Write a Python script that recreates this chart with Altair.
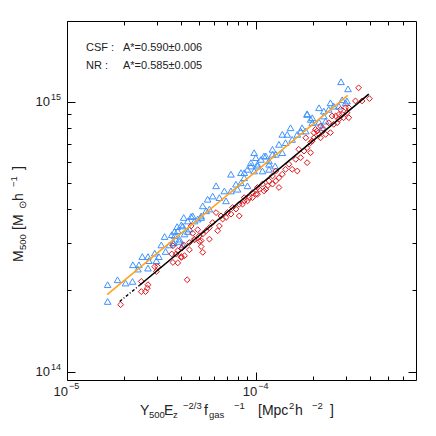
import altair as alt
import pandas as pd

# ---------------- data ----------------
csf_x = [1.64e-5, 1.64e-5, 1.85e-5, 2.04e-5, 2.22e-5, 2.23e-5, 2.40e-5, 2.37e-5, 2.68e-5, 2.68e-5,
         2.50e-5, 2.71e-5, 2.91e-5, 2.97e-5, 3.06e-5, 3.15e-5, 3.28e-5, 3.32e-5, 3.48e-5, 3.58e-5,
         3.70e-5, 3.82e-5, 4.02e-5, 4.14e-5, 4.53e-5, 4.72e-5, 3.93e-5, 4.09e-5, 4.35e-5, 3.67e-5,
         5.12e-5,
         7.36e-5, 8.31e-5, 8.65e-5, 9.38e-5, 9.96e-5, 1.016e-4, 1.10e-4, 1.17e-4, 1.22e-4, 1.26e-4,
         6.14e-5, 6.39e-5, 6.79e-5, 5.89e-5, 5.54e-5, 5.22e-5, 5.44e-5, 4.62e-5, 4.91e-5, 4.35e-5,
         4.09e-5, 3.85e-5, 3.70e-5, 3.93e-5, 3.63e-5, 4.44e-5, 4.18e-5, 7.82e-5, 9.00e-5, 7.36e-5,
         6.93e-5, 7.97e-5, 5.66e-5, 5.12e-5, 9.76e-5, 1.08e-4, 1.17e-4,
         1.86e-4, 1.98e-4, 1.52e-4, 1.75e-4, 1.375e-4, 1.46e-4, 1.65e-4,
         9.76e-5, 1.22e-4, 1.32e-4, 1.43e-4, 1.06e-4, 1.125e-4, 1.27e-4, 1.375e-4,
         9.38e-5, 8.65e-5, 8.31e-5, 9.00e-5, 1.016e-4,
         2.15e-4, 2.47e-4, 2.74e-4, 2.97e-4, 2.28e-4, 1.17e-4, 1.55e-4,
         2.81e-4, 3.06e-4, 2.85e-4, 3.02e-4, 2.57e-4, 2.42e-4, 1.86e-4, 1.94e-4, 1.98e-4, 2.15e-4,
         2.28e-4, 2.33e-4, 2.23e-4, 1.72e-4, 1.83e-4]
csf_y = [1.82e14, 2.10e14, 2.19e14, 2.13e14, 2.16e14, 2.49e14, 2.49e14, 2.40e14, 2.42e14, 2.67e14,
         2.67e14, 2.58e14, 2.75e14, 2.58e14, 2.67e14, 2.95e14, 3.17e14, 2.79e14, 2.95e14, 3.22e14,
         3.31e14, 3.45e14, 3.50e14, 3.73e14, 3.76e14, 3.62e14, 3.04e14, 2.95e14, 3.31e14, 3.00e14,
         3.73e14,
         5.40e14, 5.47e14, 5.24e14, 5.79e14, 6.22e14, 5.88e14, 6.31e14, 6.05e14, 6.40e14, 5.79e14,
         4.89e14, 4.42e14, 4.68e14, 4.48e14, 4.36e14, 4.12e14, 3.95e14, 3.78e14, 3.68e14, 3.62e14,
         3.47e14, 3.33e14, 3.19e14, 3.10e14, 3.01e14, 3.38e14, 3.24e14, 4.96e14, 4.89e14, 4.68e14,
         4.30e14, 4.75e14, 4.01e14, 3.78e14, 5.55e14, 5.55e14, 5.63e14,
         9.00e14, 8.75e14, 8.03e14, 8.03e14, 7.59e14, 7.59e14, 7.59e14,
         6.49e14, 6.68e14, 6.97e14, 7.07e14, 6.13e14, 6.31e14, 6.40e14, 6.49e14,
         5.96e14, 5.47e14, 5.02e14, 5.63e14, 5.79e14,
         9.53e14, 9.94e14, 9.66e14, 9.94e14, 9.26e14, 5.88e14, 7.27e14,
         1.19e15, 1.12e15, 1.02e15, 1.01e15, 9.66e14, 9.40e14, 9.05e14, 8.63e14, 8.38e14, 8.43e14,
         8.88e14, 8.50e14, 8.03e14, 7.81e14, 7.81e14]

nr_x = [1.92e-5, 2.47e-5, 2.47e-5, 2.60e-5, 2.66e-5, 2.68e-5, 2.97e-5, 3.02e-5, 2.91e-5, 3.63e-5,
        3.85e-5, 3.58e-5, 3.78e-5, 4.02e-5, 4.05e-5, 4.32e-5, 4.14e-5, 4.44e-5, 4.62e-5, 4.72e-5,
        5.01e-5, 5.12e-5, 4.91e-5, 5.22e-5, 4.53e-5,
        3.63e-5, 3.85e-5, 4.02e-5, 4.18e-5, 4.44e-5, 4.72e-5, 5.01e-5, 5.12e-5, 5.66e-5, 5.44e-5,
        5.89e-5, 6.39e-5, 6.26e-5, 6.65e-5, 6.93e-5, 7.06e-5, 7.50e-5, 8.14e-5, 8.14e-5, 8.65e-5,
        9.19e-5, 9.56e-5, 1.016e-4, 1.08e-4, 1.125e-4, 1.17e-4, 1.22e-4, 1.27e-4, 7.82e-5, 7.36e-5,
        6.14e-5, 6.52e-5, 5.66e-5, 5.22e-5, 1.016e-4,
        3.09e-4, 2.85e-4, 2.63e-4, 2.42e-4, 2.57e-4, 2.74e-4, 2.19e-4, 2.06e-4, 2.15e-4, 2.33e-4,
        2.02e-4, 1.94e-4, 1.86e-4, 1.94e-4, 1.79e-4, 1.68e-4, 1.72e-4, 1.62e-4, 1.49e-4, 1.55e-4,
        1.43e-4, 1.375e-4, 1.32e-4, 1.27e-4, 1.22e-4, 1.15e-4, 1.10e-4, 1.04e-4, 9.96e-5, 9.56e-5,
        9.00e-5, 8.65e-5, 8.47e-5, 1.32e-4, 1.65e-4, 1.86e-4,
        3.48e-4, 3.97e-4, 3.63e-4, 3.35e-4, 2.97e-4, 3.02e-4, 3.09e-4, 2.90e-4, 2.79e-4, 2.74e-4,
        2.52e-4, 2.68e-4, 2.47e-4, 2.28e-4, 2.19e-4, 2.10e-4, 2.02e-4, 1.98e-4, 1.83e-4]
nr_y = [1.77e14, 2.16e14, 1.98e14, 1.98e14, 2.04e14, 2.10e14, 2.35e14, 2.45e14, 2.45e14, 2.54e14,
        2.53e14, 2.73e14, 2.73e14, 2.67e14, 2.87e14, 2.19e14, 2.95e14, 2.83e14, 3.26e14, 3.08e14,
        3.04e14, 2.91e14, 3.36e14, 2.77e14, 3.47e14,
        2.93e14, 2.81e14, 2.65e14, 2.69e14, 3.01e14, 3.10e14, 3.19e14, 3.06e14, 3.10e14, 3.33e14,
        3.57e14, 3.47e14, 3.33e14, 3.68e14, 3.73e14, 3.89e14, 4.06e14, 3.78e14, 4.18e14, 4.30e14,
        4.42e14, 4.61e14, 4.82e14, 4.96e14, 4.75e14, 5.10e14, 5.32e14, 5.55e14, 4.01e14, 3.84e14,
        3.89e14, 3.78e14, 3.42e14, 3.24e14, 4.55e14,
        9.53e14, 9.00e14, 8.88e14, 8.38e14, 8.27e14, 8.63e14, 8.15e14, 7.92e14, 7.59e14, 7.59e14,
        7.37e14, 7.07e14, 6.77e14, 6.49e14, 6.58e14, 6.68e14, 6.22e14, 6.13e14, 5.88e14, 5.63e14,
        5.63e14, 5.40e14, 5.24e14, 5.10e14, 4.96e14, 4.89e14, 4.68e14, 4.75e14, 4.55e14, 4.42e14,
        4.30e14, 4.42e14, 4.18e14, 4.82e14, 5.55e14, 5.96e14,
        1.13e15, 1.03e15, 1.01e15, 1.01e15, 9.53e14, 9.13e14, 8.75e14, 8.75e14, 9.40e14, 9.00e14,
        8.88e14, 8.38e14, 7.70e14, 7.92e14, 7.37e14, 7.81e14, 7.70e14, 7.17e14, 7.37e14]

csf_fit_x = [1.63e-5, 3.05e-4]
csf_fit_y = [1.93e14, 1.06e15]
nr_fit_x = [2.42e-5, 3.94e-4]
nr_fit_y = [2.09e14, 1.07e15]
nr_ext_x = [1.90e-5, 2.42e-5]
nr_ext_y = [1.82e14, 2.09e14]

x_major = [1e-5, 1e-4]
x_minor = [2e-5, 3e-5, 4e-5, 5e-5, 6e-5, 7e-5, 8e-5, 9e-5, 2e-4, 3e-4, 4e-4, 5e-4, 6e-4]
x_exps = ["−5", "−4"]
y_major = [1e14, 1e15]
y_minor = [2e14, 3e14, 4e14, 5e14, 6e14, 7e14, 8e14, 9e14]
y_exps = ["14", "15"]

fit_texts = [("CSF :", "A*=0.590±0.006"), ("NR :", "A*=0.585±0.005")]

# ---------------- layout ----------------
W, H = 349, 359
X_DOMAIN = [1e-5, 7e-4]
Y_DOMAIN = [9.3e13, 2.0e15]
FONT = "Liberation Sans"
TXT = "#222222"
BLUE = "#3d92ff"
RED = "#e0161b"
ORANGE = "#ffa41b"

xs = alt.Scale(type="log", domain=X_DOMAIN, nice=False)
ys = alt.Scale(type="log", domain=Y_DOMAIN, nice=False)

assert len(csf_x) == len(csf_y) and len(nr_x) == len(nr_y)
csf = pd.DataFrame({"x": csf_x, "y": csf_y})
nr = pd.DataFrame({"x": nr_x, "y": nr_y})
csf_fit = pd.DataFrame({"x": csf_fit_x, "y": csf_fit_y})
nr_fit = pd.DataFrame({"x": nr_fit_x, "y": nr_fit_y})
nr_ext = pd.DataFrame({"x": nr_ext_x, "y": nr_ext_y})
xlab = pd.DataFrame({"x": x_major, "e": x_exps})
ylab = pd.DataFrame({"y": y_major, "e": y_exps})


def tick_axis(orient, offset, values, size, domain=False):
    return alt.Axis(orient=orient, offset=offset, values=values, labels=False, title=None,
                    grid=False, domain=domain, domainColor="black", domainWidth=1,
                    ticks=True, tickColor="black", tickWidth=1, tickSize=size)


x_axes = [
    tick_axis("bottom", 0, x_major, 0.01, domain=True),
    tick_axis("top", -H, x_major, 8),
    tick_axis("top", -H, x_minor, 4),
    tick_axis("bottom", -H, x_major, 8, domain=True),
    tick_axis("bottom", -H, x_minor, 4),
]
y_axes = [
    tick_axis("left", 0, y_major, 0.01, domain=True),
    tick_axis("right", -W, y_major, 8),
    tick_axis("right", -W, y_minor, 4),
    tick_axis("left", -W, y_major, 8, domain=True),
    tick_axis("left", -W, y_minor, 4),
]

layers = []
# invisible carriers for the axes (box with inward ticks)
for ax, ay in zip(x_axes, y_axes):
    layers.append(
        alt.Chart(csf_fit).mark_point(opacity=0).encode(
            x=alt.X("x:Q", scale=xs, axis=ax), y=alt.Y("y:Q", scale=ys, axis=ay))
    )

X = lambda: alt.X("x:Q", scale=xs, axis=None)
Y = lambda: alt.Y("y:Q", scale=ys, axis=None)

layers.append(
    alt.Chart(csf).mark_point(shape="triangle-up", filled=False, color=BLUE, size=44,
                              strokeWidth=1, opacity=1).encode(x=X(), y=Y())
)
layers.append(
    alt.Chart(nr).mark_point(shape="diamond", filled=False, color=RED, size=34,
                             strokeWidth=1, opacity=1).encode(x=X(), y=Y())
)
layers.append(alt.Chart(csf_fit).mark_line(color=ORANGE, strokeWidth=1.6).encode(x=X(), y=Y()))
layers.append(alt.Chart(nr_fit).mark_line(color="black", strokeWidth=1.6).encode(x=X(), y=Y()))
layers.append(
    alt.Chart(nr_ext).mark_line(color="black", strokeWidth=1.4, strokeDash=[3, 2, 1, 2]).encode(
        x=X(), y=Y())
)

# tick labels: "10" + raised exponent, placed through the scales
layers.append(alt.Chart(xlab).mark_text(align="right", baseline="middle", font=FONT, fontSize=13,
                                        color=TXT, dx=1).encode(
    x=X(), y=alt.value(H + 12), text=alt.value("10")))
layers.append(alt.Chart(xlab).mark_text(align="left", baseline="middle", font=FONT, fontSize=9,
                                        color=TXT, dx=2).encode(
    x=X(), y=alt.value(H + 6), text="e:N"))
layers.append(alt.Chart(ylab).mark_text(align="right", baseline="middle", font=FONT, fontSize=13,
                                        color=TXT, dx=-17).encode(
    y=Y(), x=alt.value(0), text=alt.value("10")))
layers.append(alt.Chart(ylab).mark_text(align="left", baseline="middle", font=FONT, fontSize=9,
                                        color=TXT, dx=-16, dy=-5).encode(
    y=Y(), x=alt.value(0), text="e:N"))


def txt(s, px, py, size=11, align="left", baseline="middle", angle=0, dy=0):
    """px, py are offsets relative to the plot-area origin."""
    kw = dict(align=align, baseline=baseline, font=FONT, fontSize=size, color=TXT)
    if angle:
        kw["angle"] = angle
    if dy:
        kw["dy"] = dy
    return alt.Chart(pd.DataFrame({"t": [s]})).mark_text(**kw).encode(
        text="t:N", x=alt.value(px), y=alt.value(py))


# fit annotations (plot-area coordinates)
for i, (a, b) in enumerate(fit_texts):
    layers.append(txt(a, 19, 27 + 18 * i, size=11))
    layers.append(txt(b, 56, 27 + 18 * i, size=11))

# x title pieces: (text, page x, kind)
x_title = [("Y", 140, "m"), ("500", 149, "sub"), ("E", 164, "m"), ("z", 173, "sub"),
           ("−2/3", 183, "sup"), ("f", 204, "m"), ("gas", 209, "sub"),
           ("−1", 234, "sup"), ("[Mpc", 258, "m"), ("2", 289, "sup"), ("h", 295, "m"),
           ("−2", 312, "sup"), ("]", 330, "m")]
for s, px, kind in x_title:
    size = 14 if kind == "m" else 9.5
    dy = {"m": 0, "sub": 4, "sup": -5}[kind]
    layers.append(txt(s, px - 67, 411 - 21, size=size, dy=dy))

# y title pieces (rotated): (text, page y start, kind)
y_title = [("M", 262, "m"), ("500", 250, "sub"), ("[M", 230, "m"), ("⊙", 209, "sub"),
           ("h", 201, "m"), ("−1", 187, "sup"), ("]", 170, "m")]
for s, py, kind in y_title:
    size = 14 if kind == "m" else 9.5
    dy = {"m": 0, "sub": 4, "sup": -5}[kind]
    layers.append(txt(s, 19 - 67, py - 21, size=size, angle=270, dy=dy))

chart = alt.layer(*layers).resolve_axis(x="independent", y="independent").properties(
    width=W, height=H,
    autosize=alt.AutoSizeParams(type="none"),
    padding={"left": 59, "top": 13, "right": 12, "bottom": 48},
).configure_view(stroke=None).configure(background="white")

chart.save("out.html", embed_options={"renderer": "svg", "actions": False})
